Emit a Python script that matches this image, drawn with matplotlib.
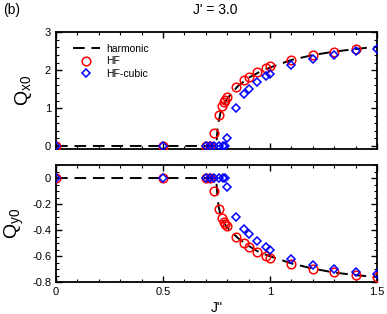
import matplotlib
matplotlib.use("Agg")
import matplotlib.pyplot as plt
from matplotlib.ticker import MultipleLocator, FixedLocator
import numpy as np

plt.rcParams['font.family'] = ['Liberation Sans', 'DejaVu Sans']
plt.rcParams['mathtext.fontset'] = 'custom'
plt.rcParams['mathtext.rm'] = 'Liberation Sans'
plt.rcParams['mathtext.it'] = 'Liberation Sans'

# ---- data ----
harm_x = [0, 0.75, 0.751, 0.755, 0.76, 0.77, 0.78, 0.80, 0.85, 0.90, 0.95, 1.00, 1.10, 1.20, 1.30, 1.40, 1.50]
harm_qx = [0, 0, 0.15, 0.45, 0.65, 0.90, 1.05, 1.25, 1.58, 1.80, 1.95, 2.07, 2.27, 2.40, 2.49, 2.56, 2.62]
harm_qy = [0, 0, -0.06, -0.15, -0.22, -0.29, -0.33, -0.38, -0.46, -0.52, -0.57, -0.60, -0.655, -0.695, -0.725, -0.745, -0.76]

hf_x_top = [0, 0.5, 0.70, 0.72, 0.74, 0.76, 0.775, 0.785, 0.79, 0.80, 0.84, 0.88, 0.90, 0.94, 0.98, 1.00, 1.10, 1.20, 1.30, 1.40]
hf_qx = [0, 0, 0, 0, 0.35, 0.82, 1.06, 1.17, 1.22, 1.28, 1.55, 1.73, 1.81, 1.95, 2.05, 2.10, 2.28, 2.40, 2.49, 2.57]

hf_x_bot = [0, 0.5, 0.70, 0.72, 0.74, 0.76, 0.775, 0.785, 0.79, 0.80, 0.84, 0.88, 0.90, 0.94, 0.98, 1.00, 1.10, 1.20, 1.30, 1.40, 1.50]
hf_qy = [0, 0, 0, 0, -0.103, -0.24, -0.31, -0.336, -0.35, -0.37, -0.45, -0.50, -0.53, -0.566, -0.597, -0.61, -0.66, -0.698, -0.723, -0.744, -0.757]

cub_x = [0, 0.5, 0.70, 0.72, 0.74, 0.76, 0.78, 0.79, 0.80, 0.84, 0.88, 0.90, 0.94, 0.98, 1.00, 1.10, 1.20, 1.30, 1.40, 1.50]
cub_qx = [0, 0, 0, 0, 0, 0, 0, 0, 0.21, 1.01, 1.37, 1.50, 1.69, 1.86, 1.90, 2.14, 2.30, 2.40, 2.50, 2.56]
cub_qy = [0, 0, 0, 0, 0, 0, 0, 0, -0.065, -0.297, -0.39, -0.43, -0.486, -0.53, -0.55, -0.62, -0.667, -0.698, -0.724, -0.74]

xticks = [0, 0.5, 1, 1.5]
xticklabels = ['0', '0.5', '1', '1.5']

# ---- figure ----
fig = plt.figure(figsize=(3.87, 3.14), dpi=100)
ax1 = fig.add_axes([0.1447, 0.5255, 0.8293, 0.3715])
ax2 = fig.add_axes([0.1447, 0.101, 0.8293, 0.3735])

dash = (0, (6, 3.5))
for ax, hy, hx, hyv, cy in [(ax1, harm_qx, hf_x_top, hf_qx, cub_qx), (ax2, harm_qy, hf_x_bot, hf_qy, cub_qy)]:
    ax.plot(harm_x, hy, color='black', lw=1.4, linestyle=dash, label='harmonic', zorder=3)
    ax.plot(hx, hyv, linestyle='none', marker='o', ms=6.2, mfc='none', mec='red', mew=1.1, label='HF', zorder=4)
    ax.plot(cub_x, cy, linestyle='none', marker='D', ms=4.5, mfc='none', mec='blue', mew=1.1, label='HF-cubic', zorder=5)
    ax.set_xlim(0, 1.5)
    ax.xaxis.set_major_locator(FixedLocator(xticks))
    ax.xaxis.set_minor_locator(MultipleLocator(0.1))
    ax.tick_params(which='both', direction='in', top=True, right=True, labelsize=8)
    ax.tick_params(which='major', length=4, width=1)
    ax.tick_params(which='minor', length=2, width=0.8)
    for s in ax.spines.values():
        s.set_linewidth(1.3)

ax1.set_ylim(-0.08, 3.0)
ax1.yaxis.set_major_locator(MultipleLocator(1))
ax1.yaxis.set_minor_locator(MultipleLocator(0.2))
ax1.set_xticklabels([])
ax1.set_ylabel(r'Q$_{\mathregular{x0}}$', fontsize=14, labelpad=8)

ax2.set_ylim(-0.8, 0.1)
ax2.yaxis.set_major_locator(FixedLocator([0, -0.2, -0.4, -0.6, -0.8]))
ax2.set_yticklabels(['0', '-0.2', '-0.4', '-0.6', '-0.8'])
ax2.yaxis.set_minor_locator(MultipleLocator(0.05))
ax2.set_xticklabels(xticklabels)
ax2.set_ylabel(r'Q$_{\mathregular{y0}}$', fontsize=14, labelpad=4)
ax2.set_xlabel("J''", fontsize=10, labelpad=3)

leg = ax1.legend(loc='upper left', fontsize=7.5, frameon=False, handlelength=2.6,
                 borderaxespad=0.3, labelspacing=0.25, handletextpad=0.6, bbox_to_anchor=(0.03, 0.965))

fig.text(0.008, 0.955, '(b)', fontsize=10)
fig.text(0.557, 0.955, "J' = 3.0", fontsize=10, ha='center')

fig.savefig('out.png', dpi=100)
